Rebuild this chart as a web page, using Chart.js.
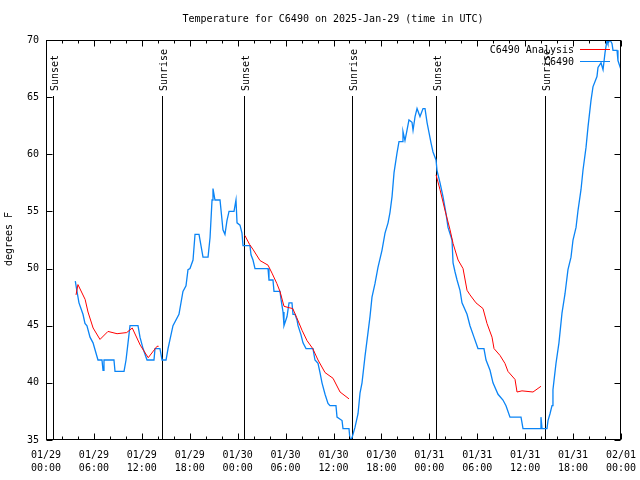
<!DOCTYPE html>
<html><head><meta charset="utf-8">
<script src="https://cdn.jsdelivr.net/npm/chart.js@4/dist/chart.umd.min.js"></script>
<style>html,body{margin:0;padding:0;background:#fff}</style>
</head><body>
<canvas id="c" width="640" height="480"></canvas>
<script>
const titleText = "Temperature for C6490 on 2025-Jan-29 (time in UTC)";
const yAxisLabel = "degrees F";
const xTickLabels = [["01/29","00:00"],["01/29","06:00"],["01/29","12:00"],["01/29","18:00"],
  ["01/30","00:00"],["01/30","06:00"],["01/30","12:00"],["01/30","18:00"],
  ["01/31","00:00"],["01/31","06:00"],["01/31","12:00"],["01/31","18:00"],["02/01","00:00"]];
const seriesNames = ["C6490 Analysis", "C6490"];

// hours since 01/29 00:00 UTC
const obsHours = [3.67,3.88,4.13,4.63,4.88,5.13,5.51,5.89,6.14,6.51,7.01,7.14,7.26,7.64,8.51,8.64,9.77,10.02,10.27,10.52,11.52,11.77,12.15,12.65,13.52,13.65,14.27,14.53,15.03,15.28,15.9,16.65,17.15,17.53,17.78,18.03,18.41,18.66,19.16,19.66,20.29,20.54,20.79,20.91,21.16,21.79,22.16,22.41,22.66,22.92,23.54,23.79,23.92,24.29,24.54,24.67,25.54,25.67,25.92,26.17,27.8,27.92,28.42,28.55,29.3,29.43,29.68,29.8,30.18,30.43,30.8,30.93,31.18,31.43,31.56,31.93,32.18,32.56,33.43,33.68,34.06,34.31,34.56,34.94,35.31,35.56,36.31,36.44,37.07,37.19,37.94,38.07,38.32,38.69,39.07,39.32,39.57,39.94,40.32,40.57,40.82,41.2,41.57,42.07,42.45,42.83,43.07,43.33,43.58,43.95,44.2,44.58,44.7,44.95,45.2,45.45,45.83,45.96,46.21,46.46,46.83,47.21,47.46,47.71,47.96,48.21,48.46,48.84,48.96,49.34,49.71,50.09,50.34,50.84,50.97,51.22,51.47,51.84,52.09,52.72,53.09,53.59,54.09,54.84,55.1,55.6,55.97,56.6,57.22,57.6,58.1,59.48,59.73,61.86,61.98,62.11,62.73,62.86,63.11,63.36,63.48,63.61,63.86,64.23,64.61,64.99,65.36,65.74,65.99,66.37,66.62,66.99,67.24,67.62,67.87,68.24,68.49,68.99,69.12,69.5,69.75,70,70.25,70.37,70.62,70.87,71,71.5,71.62,72];
const obsTemps = [48.9,48,47,46,45.2,45,44,43.5,42.9,42,42,41.1,42,42,42,41,41,42,43.5,45,45,44,43,42,42,43,43,42,42,43,45,46,48,48.5,49.9,50,50.75,53,53,51,51,52.7,56,57,56,56,53.4,53,54.2,55,55,56,54,53.8,53.1,52,52,51.2,50.75,50,50,49,49,48,48,47.3,46.2,45,45.8,47,47,46,46,45.5,45,44.2,43.5,43,43,42,41.7,40.9,40,39,38.2,38,38,37,36.7,36,36,35,35.2,36.1,37.3,39.1,40,42.3,44.4,45.8,47.5,48.7,50.1,51.6,53.1,54,54.9,56.3,58.4,60.1,61.1,61.1,62,61.2,62.1,63,62.8,62.1,63.3,64,63.3,64,64,62.8,61.9,61,60.2,59.5,58.6,57.5,56.3,54.8,53.6,52.5,50.5,49.7,49,48.1,47,46,45,44,43,43,42,41.1,40,39,38.5,38,37,37,36,36,37,36,36,36.7,37.3,38,39.4,40.2,41.7,43.5,46.1,47.8,49.9,51,52.5,53.6,55.1,56.9,58.6,60.6,62.4,64.7,65.9,66.8,67.6,68,67.4,68.9,70,69.7,70,69.7,69.1,69.1,68.2,67.4];

const anaHours = [3.76,4.0,4.9,5.26,5.9,6.76,7.76,8.9,10.1,10.8,11.8,12.8,13.9,14.1,
  19.5,
  24.9,25.5,25.9,26.8,27.8,28.3,28.9,29.3,29.8,30.3,30.9,31.4,32.06,32.68,33.4,34.06,34.94,35.94,36.82,37.94,
  43.0,
  48.84,49.34,49.96,50.59,50.97,51.6,52.22,52.72,53.09,53.84,54.72,55.22,55.85,56.1,56.85,57.47,57.85,58.73,58.98,59.6,60.98,61.98];
const anaTemps = [47.7,48.6,47.3,46.2,44.8,43.8,44.5,44.3,44.4,44.8,43.3,42.2,43.2,43.2,
  null,
  52.9,52.1,51.7,50.7,50.3,49.6,48.7,48,46.7,46.6,46.5,45.7,44.6,43.7,43,42,40.9,40.4,39.2,38.6,
  null,
  58.2,56.9,55.1,53.4,52.2,50.75,50,48.1,47.7,47,46.5,45.2,44,43,42.4,41.7,41,40.3,39.2,39.3,39.2,39.7];

const sunHours = [0.88,14.53,24.79,38.32,48.84,62.48];
const sunLabels = ["Sunset","Sunrise","Sunset","Sunrise","Sunset","Sunrise"];

const FONT = "'DejaVu Sans Mono', 'Liberation Mono', monospace";

const gnuplotPlugin = {
  id: 'gnuplotDecor',
  beforeDatasetsDraw(chart) {
    const ctx = chart.ctx, a = chart.chartArea, xs = chart.scales.x;
    ctx.save();
    ctx.strokeStyle = '#000'; ctx.lineWidth = 1;
    ctx.fillStyle = '#000';
    ctx.font = "10px " + FONT;
    sunHours.forEach((h, i) => {
      const px = Math.round(xs.getPixelForValue(h)) + 0.5;
      ctx.beginPath(); ctx.moveTo(px, 96); ctx.lineTo(px, a.bottom); ctx.stroke();
      ctx.save();
      ctx.translate(px + 4, 91);
      ctx.rotate(-Math.PI/2);
      ctx.textAlign = 'left'; ctx.textBaseline = 'alphabetic';
      ctx.fillText(sunLabels[i], 0, 0);
      ctx.restore();
    });
    ctx.restore();
  },
  afterDraw(chart) {
    const ctx = chart.ctx, a = chart.chartArea, xs = chart.scales.x, ys = chart.scales.y;
    ctx.save();
    ctx.strokeStyle = '#000'; ctx.lineWidth = 1;
    const L = Math.round(a.left) + 0.5, R = Math.round(a.right) - 0.5;
    const T = Math.round(a.top) + 0.5, B = Math.round(a.bottom) - 0.5;
    ctx.strokeRect(L, T, R - L, B - T);
    ctx.beginPath();
    for (let v = 35; v <= 70; v += 5) {
      const py = Math.round(ys.getPixelForValue(v)) + 0.5;
      ctx.moveTo(L, py); ctx.lineTo(L + 6, py);
      ctx.moveTo(R, py); ctx.lineTo(R - 6, py);
    }
    for (let h = 0; h <= 72; h += 2) {
      const px = Math.round(xs.getPixelForValue(h)) + 0.5;
      const len = (h % 6 === 0) ? 6 : 3;
      ctx.moveTo(px, B); ctx.lineTo(px, B - len);
      ctx.moveTo(px, T); ctx.lineTo(px, T + len);
    }
    ctx.stroke();
    // title
    ctx.fillStyle = '#000';
    ctx.font = "10px " + FONT;
    ctx.textAlign = 'center'; ctx.textBaseline = 'middle';
    ctx.fillText(titleText, 333, 19);
    // y label
    ctx.save();
    ctx.translate(9, 239);
    ctx.rotate(-Math.PI/2);
    ctx.fillText(yAxisLabel, 0, 0);
    ctx.restore();
    // legend
    ctx.textAlign = 'right';
    const legY = [50, 62];
    chart.data.datasets.forEach((ds, i) => {
      ctx.fillStyle = '#000';
      ctx.fillText(ds.label, 574, legY[i]);
      ctx.strokeStyle = ds.borderColor;
      ctx.beginPath();
      ctx.moveTo(580, legY[i] - 0.5); ctx.lineTo(610, legY[i] - 0.5);
      ctx.stroke();
    });
    ctx.restore();
  }
};

new Chart(document.getElementById('c'), {
  type: 'line',
  data: {
    datasets: [
      { label: seriesNames[0], data: anaHours.map((h, i) => ({x: h, y: anaTemps[i]})),
        borderColor: '#ff0000', borderWidth: 1, pointRadius: 0, fill: false, spanGaps: false, order: 1 },
      { label: seriesNames[1], data: obsHours.map((h, i) => ({x: h, y: obsTemps[i]})),
        borderColor: '#0a84f5', borderWidth: 1.3, pointRadius: 0, fill: false, order: 2 }
    ]
  },
  options: {
    responsive: false,
    animation: false,
    layout: { padding: { top: 40, right: 19, left: 0, bottom: 0 } },
    plugins: { legend: { display: false }, title: { display: false }, tooltip: { enabled: false } },
    scales: {
      x: {
        type: 'linear', min: 0, max: 72,
        afterFit: s => { s.height = 40; s.paddingLeft = 0; s.paddingRight = 0; },
        afterBuildTicks: s => { s.ticks = xTickLabels.map((_, i) => ({value: i * 6})); },
        grid: { display: false, drawTicks: false },
        border: { display: false },
        ticks: {
          autoSkip: false, maxRotation: 0, minRotation: 0, padding: 9, color: '#000',
          font: { family: FONT, size: 10, lineHeight: 1.3 },
          callback: v => xTickLabels[Math.round(v / 6)]
        }
      },
      y: {
        min: 35, max: 70,
        afterFit: s => { s.width = 46; s.paddingTop = 0; s.paddingBottom = 0; },
        grid: { display: false, drawTicks: false },
        border: { display: false },
        ticks: { stepSize: 5, padding: 7, color: '#000', font: { family: FONT, size: 10 } }
      }
    }
  },
  plugins: [gnuplotPlugin]
});
</script>
</body></html>
